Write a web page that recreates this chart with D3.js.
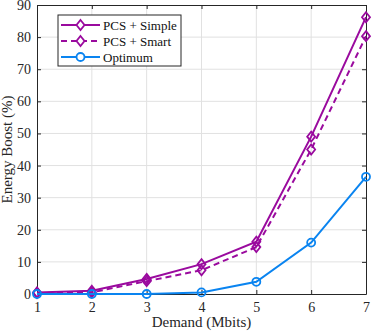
<!DOCTYPE html>
<html>
<head>
<meta charset="utf-8">
<script src="https://cdn.jsdelivr.net/npm/d3@7"></script>
<style>
body { margin: 0; background: #fff; }
</style>
</head>
<body>
<svg id="chart" width="373" height="334"></svg>
<script>
var demand = [1, 2, 3, 4, 5, 6, 7];
var pcsSimple = [0.5, 1, 4.7, 9.3, 16.3, 49, 86.2];
var pcsSmart = [0.3, 0.5, 4, 7.4, 14.6, 45, 80.3];
var optimum = [0, 0, 0, 0.5, 3.8, 16, 36.5];
var yTicks = [0, 10, 20, 30, 40, 50, 60, 70, 80, 90];
var seriesNames = ["PCS + Simple", "PCS + Smart", "Optimum"];

var purple = "#9a0a9e";
var blue = "#0a84f0";
var serif = "Liberation Serif, Times New Roman, serif";

var svg = d3.select("#chart");
var margin = {left: 37, right: 7, top: 5, bottom: 40};
var width = 373 - margin.left - margin.right;
var height = 334 - margin.top - margin.bottom;

var g = svg.append("g").attr("transform", "translate(" + margin.left + "," + margin.top + ")");

var x = d3.scaleLinear().domain([1, 7]).range([0, width]);
var y = d3.scaleLinear().domain([0, 90]).range([height, 0]);

// grid
g.append("g").selectAll("line").data(demand.slice(1, -1)).enter().append("line")
    .attr("x1", function(d){ return x(d); }).attr("x2", function(d){ return x(d); })
    .attr("y1", 0).attr("y2", height)
    .attr("stroke", "#e1e1e1").attr("stroke-width", 1);
g.append("g").selectAll("line").data(yTicks.slice(1, -1)).enter().append("line")
    .attr("y1", function(d){ return y(d); }).attr("y2", function(d){ return y(d); })
    .attr("x1", 0).attr("x2", width)
    .attr("stroke", "#e1e1e1").attr("stroke-width", 1);

// axes (box with inward ticks)
g.append("g").attr("transform", "translate(0," + height + ")")
    .call(d3.axisBottom(x).tickValues(demand).tickFormat(d3.format("d")).tickSizeInner(-4).tickSizeOuter(0).tickPadding(8));
g.append("g")
    .call(d3.axisLeft(y).tickValues(yTicks).tickSizeInner(-4).tickSizeOuter(0).tickPadding(6));
g.append("g")
    .call(d3.axisTop(x).tickValues(demand).tickFormat("").tickSizeInner(-4).tickSizeOuter(0));
g.append("g").attr("transform", "translate(" + width + ",0)")
    .call(d3.axisRight(y).tickValues(yTicks).tickFormat("").tickSizeInner(-4).tickSizeOuter(0));

g.selectAll(".domain").attr("stroke", "#262626");
g.selectAll(".tick line").attr("stroke", "#262626");
g.selectAll(".tick text").attr("fill", "#262626").attr("font-family", serif).attr("font-size", 14);

// labels
svg.append("text").attr("x", margin.left + width / 2).attr("y", 327)
    .attr("text-anchor", "middle").attr("fill", "#262626")
    .attr("font-family", serif).attr("font-size", 15)
    .text("Demand (Mbits)");
svg.append("text").attr("transform", "translate(12," + (margin.top + height / 2) + ") rotate(-90)")
    .attr("text-anchor", "middle").attr("fill", "#262626")
    .attr("font-family", serif).attr("font-size", 15)
    .text("Energy Boost (%)");

var line = d3.line().x(function(d, i){ return x(demand[i]); }).y(function(d){ return y(d); });

function diamond(sel, data, color) {
    sel.selectAll("path.m").data(data).enter().append("path").attr("class", "m")
        .attr("d", function(d, i){
            var cx = x(demand[i]), cy = y(d);
            return "M" + cx + "," + (cy - 5) + "L" + (cx + 4) + "," + cy + "L" + cx + "," + (cy + 5) + "L" + (cx - 4) + "," + cy + "Z";
        })
        .attr("fill", "none").attr("stroke", color).attr("stroke-width", 1.8);
}

var s1 = g.append("g");
s1.append("path").attr("d", line(pcsSimple)).attr("fill", "none").attr("stroke", purple).attr("stroke-width", 2);
diamond(s1, pcsSimple, purple);

var s2 = g.append("g");
s2.append("path").attr("d", line(pcsSmart)).attr("fill", "none").attr("stroke", purple).attr("stroke-width", 2).attr("stroke-dasharray", "6,4");
diamond(s2, pcsSmart, purple);

var s3 = g.append("g");
s3.append("path").attr("d", line(optimum)).attr("fill", "none").attr("stroke", blue).attr("stroke-width", 2);
s3.selectAll("circle").data(optimum).enter().append("circle")
    .attr("cx", function(d, i){ return x(demand[i]); }).attr("cy", function(d){ return y(d); })
    .attr("r", 4).attr("fill", "none").attr("stroke", blue).attr("stroke-width", 1.8);

// legend
var leg = svg.append("g").attr("transform", "translate(58,15)");
leg.append("rect").attr("width", 123).attr("height", 51).attr("fill", "#fff").attr("stroke", "#262626").attr("stroke-width", 1);
var styles = [
    {color: purple, dash: null, marker: "d"},
    {color: purple, dash: "6,4", marker: "d"},
    {color: blue, dash: null, marker: "o"}
];
seriesNames.forEach(function(name, i) {
    var ly = 10 + i * 16;
    leg.append("line").attr("x1", 3).attr("x2", 42).attr("y1", ly).attr("y2", ly)
        .attr("stroke", styles[i].color).attr("stroke-width", 2).attr("stroke-dasharray", styles[i].dash);
    if (styles[i].marker === "d") {
        leg.append("path").attr("d", "M22.5," + (ly - 5) + "L26.5," + ly + "L22.5," + (ly + 5) + "L18.5," + ly + "Z")
            .attr("fill", "#fff").attr("stroke", styles[i].color).attr("stroke-width", 1.8);
    } else {
        leg.append("circle").attr("cx", 22.5).attr("cy", ly).attr("r", 4)
            .attr("fill", "#fff").attr("stroke", styles[i].color).attr("stroke-width", 1.8);
    }
    leg.append("text").attr("x", 45).attr("y", ly + 4.5).attr("fill", "#111")
        .attr("font-family", serif).attr("font-size", 13).text(name);
});
</script>
</body>
</html>
